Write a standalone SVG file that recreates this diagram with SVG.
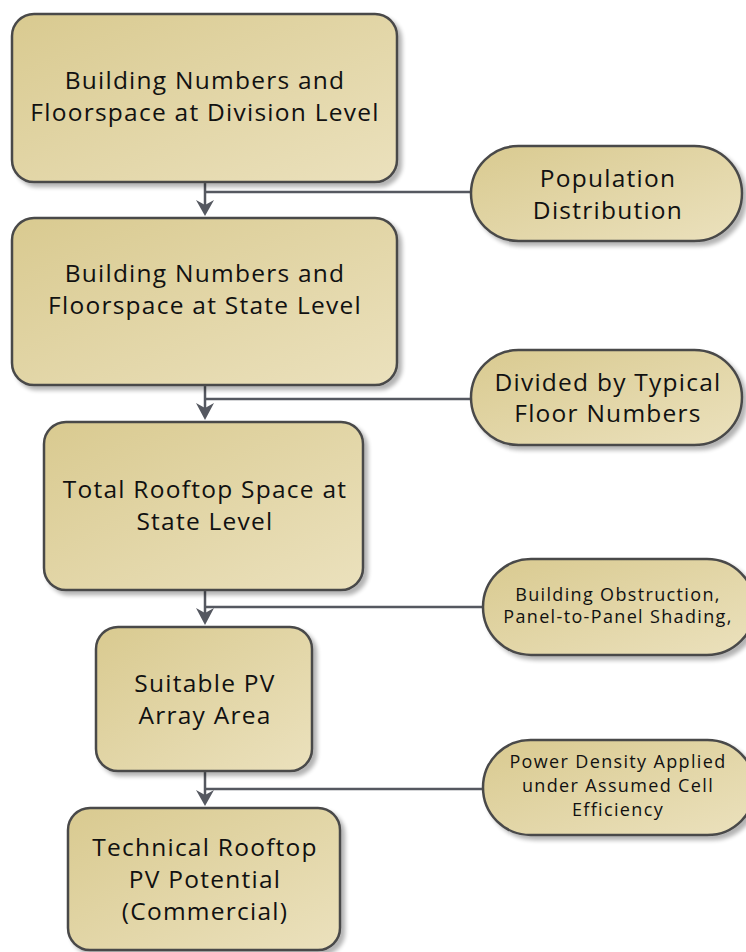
<svg xmlns="http://www.w3.org/2000/svg" width="746" height="952" viewBox="0 0 746 952">
<defs>
<linearGradient id="g" x1="0" y1="0" x2="1" y2="1">
<stop offset="0" stop-color="#d9ca90"/>
<stop offset="1" stop-color="#ebe1bd"/>
</linearGradient>
<filter id="sh" x="-10%" y="-10%" width="130%" height="130%">
<feGaussianBlur in="SourceAlpha" stdDeviation="2"/>
<feOffset dx="4" dy="4" result="b"/>
<feComponentTransfer in="b" result="c"><feFuncA type="linear" slope="0.3"/></feComponentTransfer>
<feMerge><feMergeNode in="c"/><feMergeNode in="SourceGraphic"/></feMerge>
</filter>
<style>
.n{fill:url(#g);stroke:#4a4a4a;stroke-width:2.5;filter:url(#sh)}
.t{font-family:"Open Sans","Noto Sans",sans-serif;font-size:24.5px;letter-spacing:1.25px;fill:#111;text-anchor:middle}
.s{font-family:"Open Sans","Noto Sans",sans-serif;font-size:18px;letter-spacing:1.35px;fill:#111;text-anchor:middle}
.c{stroke:#555860;stroke-width:2.5;fill:none}
.ar{fill:#555860}
</style>
</defs>
<g id="connectors">
<line class="c" x1="205" y1="182" x2="205" y2="205"/>
<path class="ar" d="M196,200 L205,205 L214,200 L205,216 Z"/>
<line class="c" x1="205" y1="192" x2="471" y2="192"/>
<line class="c" x1="205" y1="385" x2="205" y2="408"/>
<path class="ar" d="M196,403 L205,408 L214,403 L205,420 Z"/>
<line class="c" x1="205" y1="399" x2="471" y2="399"/>
<line class="c" x1="205" y1="590" x2="205" y2="613"/>
<path class="ar" d="M196,608 L205,613 L214,608 L205,625 Z"/>
<line class="c" x1="205" y1="607" x2="483" y2="607"/>
<line class="c" x1="205" y1="771" x2="205" y2="795"/>
<path class="ar" d="M196,790 L205,795 L214,790 L205,806 Z"/>
<line class="c" x1="205" y1="789" x2="483" y2="789"/>
</g>
<g id="n1">
<rect class="n" x="12" y="14" width="385" height="168" rx="22"/>
<text class="t" x="205" y="89">Building Numbers and</text>
<text class="t" x="205" y="121">Floorspace at Division Level</text>
</g>
<g id="n2">
<rect class="n" x="12" y="218" width="385" height="167" rx="22"/>
<text class="t" x="205" y="282">Building Numbers and</text>
<text class="t" x="205" y="314">Floorspace at State Level</text>
</g>
<g id="n3">
<rect class="n" x="44" y="422" width="319" height="168" rx="22"/>
<text class="t" x="205" y="498">Total Rooftop Space at</text>
<text class="t" x="205" y="530">State Level</text>
</g>
<g id="n4">
<rect class="n" x="96" y="627" width="216" height="144" rx="22"/>
<text class="t" x="205" y="692">Suitable PV</text>
<text class="t" x="205" y="724">Array Area</text>
</g>
<g id="n5">
<rect class="n" x="68" y="808" width="272" height="142" rx="22"/>
<text class="t" x="205" y="856">Technical Rooftop</text>
<text class="t" x="205" y="888">PV Potential</text>
<text class="t" x="205" y="920">(Commercial)</text>
</g>
<g id="p1">
<rect class="n" x="471" y="146" width="271" height="95" rx="47.5"/>
<text class="t" x="608" y="187">Population</text>
<text class="t" x="608" y="219">Distribution</text>
</g>
<g id="p2">
<rect class="n" x="471" y="350" width="271" height="95" rx="47.5"/>
<text class="t" x="608" y="391">Divided by Typical</text>
<text class="t" x="608" y="422">Floor Numbers</text>
</g>
<g id="p3">
<rect class="n" x="483" y="559" width="272" height="96" rx="48"/>
<text class="s" x="618" y="601">Building Obstruction,</text>
<text class="s" x="618" y="623">Panel-to-Panel Shading,</text>
</g>
<g id="p4">
<rect class="n" x="483" y="740" width="272" height="95" rx="47.5"/>
<text class="s" x="618" y="768">Power Density Applied</text>
<text class="s" x="618" y="792">under Assumed Cell</text>
<text class="s" x="618" y="816">Efficiency</text>
</g>
</svg>
